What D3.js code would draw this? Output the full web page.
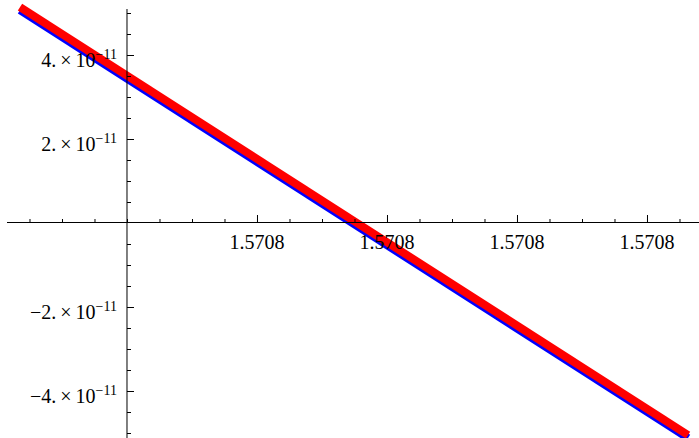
<!DOCTYPE html>
<html>
<head>
<meta charset="utf-8">
<script src="https://cdn.jsdelivr.net/npm/d3@7"></script>
<style>
  html, body { margin: 0; padding: 0; background: #fff; }
  svg { display: block; }
  text { font-family: "Liberation Serif", "Times New Roman", serif; fill: #000; }
</style>
</head>
<body>
<div id="chart"></div>
<script>
// Horizontal range and the point where the vertical axis crosses it
const xDomain = [1.57079632674154, 1.5707963268480];
const xOrigin = 1.57079632676;
const yDomain = [-5.0e-11, 5.0e-11];

// Tick positions and labels
const xMajorTicks = [1.57079632678, 1.5707963268, 1.57079632682, 1.57079632684];
const xTickLabels = ["1.5708", "1.5708", "1.5708", "1.5708"];
const yMajorTicks = [4e-11, 2e-11, -2e-11, -4e-11];
const yTickMantissas = ["4.", "2.", "\u22122.", "\u22124."];
const yTickExponent = "\u221211";

// Sampled curves: x samples and the two series
const xSamples = [1.57079632674354, 1.57079632684631];
const blueValues = [5.07e-11, -5.12e-11];
const redValues = [5.14e-11, -5.05e-11];

const W = 699, H = 438;
const svg = d3.select("#chart").append("svg")
  .attr("width", W).attr("height", H);
svg.append("rect").attr("width", W).attr("height", H).attr("fill", "#fff");

const x = d3.scaleLinear().domain(xDomain).range([7, 699]);
const y = d3.scaleLinear().domain(yDomain).range([433, 13]);

const x0 = x(xOrigin);
const y0 = y(0);

// Curves (blue underneath, red on top)
const line = vals => d3.line()
  .x((d, i) => x(xSamples[i]))
  .y(d => y(d))(vals);

svg.append("path").attr("d", line(blueValues))
  .attr("fill", "none").attr("stroke", "#0000ff")
  .attr("stroke-width", 8).attr("stroke-linecap", "butt");
svg.append("path").attr("d", line(redValues))
  .attr("fill", "none").attr("stroke", "#ff0000")
  .attr("stroke-width", 8).attr("stroke-linecap", "butt");

// Horizontal axis
const xMinor = x.ticks(20);
svg.append("g").attr("transform", `translate(0,${y0})`)
  .call(d3.axisTop(x).tickValues(xMinor).tickSize(4).tickFormat("").tickSizeOuter(0))
  .call(g => g.select(".domain").remove())
  .call(g => g.selectAll("line").attr("stroke", "#000"));
svg.append("g").attr("transform", `translate(0,${y0})`)
  .call(d3.axisTop(x).tickValues(xMajorTicks).tickSize(8).tickFormat("").tickSizeOuter(0))
  .call(g => g.select(".domain").remove())
  .call(g => g.selectAll("line").attr("stroke", "#000"));
svg.append("line")
  .attr("x1", x.range()[0]).attr("x2", x.range()[1])
  .attr("y1", y0 - 0.5).attr("y2", y0 - 0.5)
  .attr("stroke", "#000").attr("stroke-width", 1);

svg.append("g").selectAll("text").data(xMajorTicks).join("text")
  .attr("x", d => x(d))
  .attr("y", y0 + 26)
  .attr("text-anchor", "middle")
  .attr("font-size", 20)
  .text((d, i) => xTickLabels[i]);

// Vertical axis
const yMinor = y.ticks(20).filter(v => Math.abs(v) > 1e-20);
svg.append("g").attr("transform", `translate(${x0},0)`)
  .call(d3.axisRight(y).tickValues(yMinor).tickSize(4).tickFormat("").tickSizeOuter(0))
  .call(g => g.select(".domain").remove())
  .call(g => g.selectAll("line").attr("stroke", "#000"));
svg.append("g").attr("transform", `translate(${x0},0)`)
  .call(d3.axisRight(y).tickValues(yMajorTicks).tickSize(7).tickFormat("").tickSizeOuter(0))
  .call(g => g.select(".domain").remove())
  .call(g => g.selectAll("line").attr("stroke", "#000"));
svg.append("line")
  .attr("x1", x0).attr("x2", x0)
  .attr("y1", 9).attr("y2", H)
  .attr("stroke", "#000").attr("stroke-width", 1);

const yLabels = svg.append("g").selectAll("text").data(yMajorTicks).join("text")
  .attr("x", x0 - 10)
  .attr("y", d => y(d) + 12)
  .attr("text-anchor", "end")
  .attr("font-size", 20);
yLabels.append("tspan").text((d, i) => yTickMantissas[i] + "\u2009\u00d7\u200910");
yLabels.append("tspan").attr("dy", -8).attr("font-size", 14).text(yTickExponent);
</script>
</body>
</html>
